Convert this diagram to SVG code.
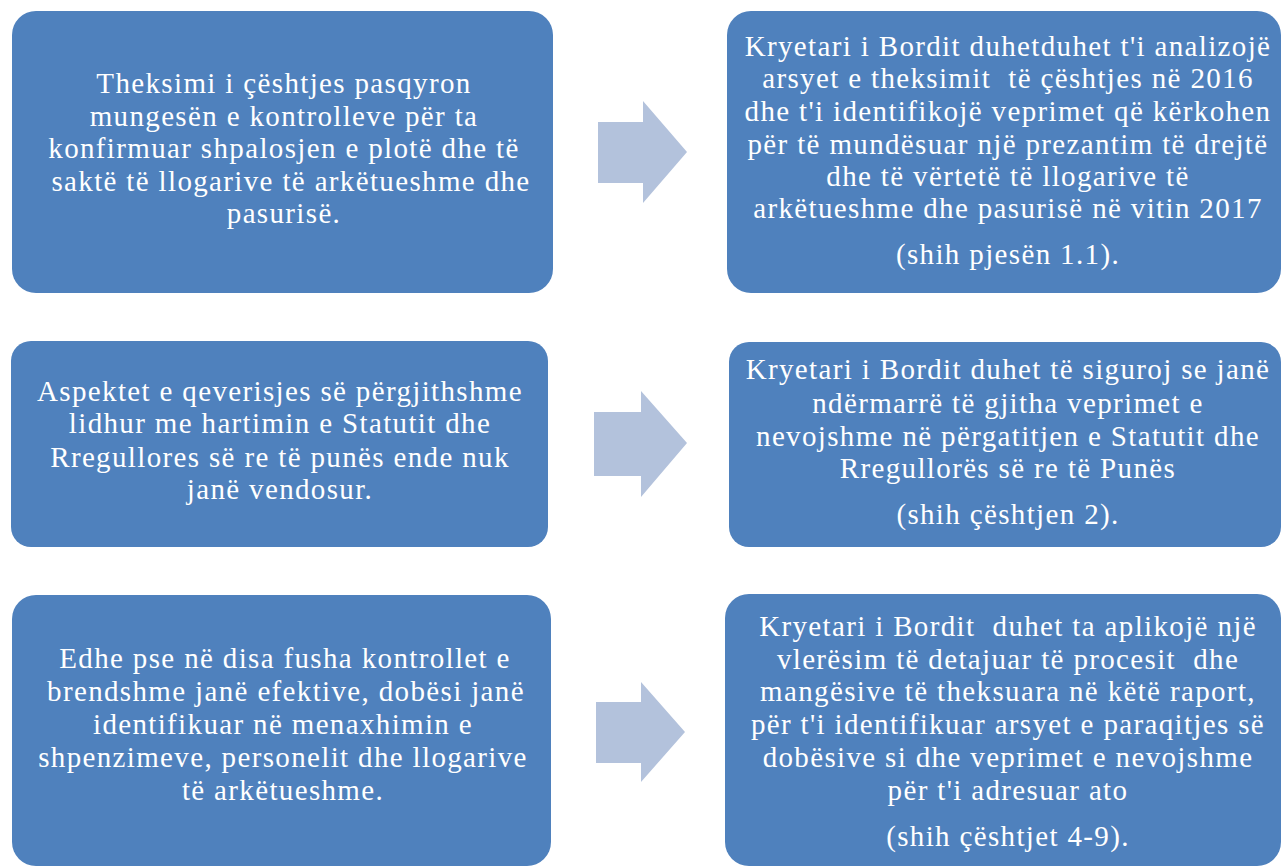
<svg xmlns="http://www.w3.org/2000/svg" width="1282" height="866" viewBox="0 0 1282 866">
<style>
.box{fill:#4F81BD;}
.arrow{fill:#B3C2DC;}
.t{font-family:"Liberation Serif","Times New Roman",serif;font-size:29px;fill:#FFFFFF;text-anchor:middle;letter-spacing:1.35px;white-space:pre;}
</style>
<rect width="1282" height="866" fill="#FFFFFF"/>
<g id="connectors">
<polygon class="arrow" points="598,122 643,122 643,101 687,152 643,203 643,183 598,183"/>
<polygon class="arrow" points="594,412 641,412 641,391 687,443 641,497 641,476 594,476"/>
<polygon class="arrow" points="596,702 641,702 641,682 685,732 641,782 641,763 596,763"/>
</g>
<g id="node1">
<rect class="box" x="12" y="11" width="541" height="282" rx="24"/>
<text class="t" x="284" y="93">Theksimi i çështjes pasqyron</text>
<text class="t" x="284" y="126">mungesën e kontrolleve për ta</text>
<text class="t" x="284" y="158">konfirmuar shpalosjen e plotë dhe të</text>
<text class="t" x="291" y="191">saktë të llogarive të arkëtueshme dhe</text>
<text class="t" x="284" y="223">pasurisë.</text>
</g>
<g id="node2">
<rect class="box" x="727" y="11" width="554" height="282" rx="24"/>
<text class="t" x="1008" y="56">Kryetari i Bordit duhetduhet t'i analizojë</text>
<text class="t" x="1008" y="88" xml:space="preserve">arsyet e theksimit  të çështjes në 2016</text>
<text class="t" x="1008" y="121">dhe t'i identifikojë veprimet që kërkohen</text>
<text class="t" x="1008" y="154">për të mundësuar një prezantim të drejtë</text>
<text class="t" x="1008" y="186">dhe të vërtetë të llogarive të</text>
<text class="t" x="1008" y="218">arkëtueshme dhe pasurisë në vitin 2017</text>
<text class="t" x="1008" y="264">(shih pjesën 1.1).</text>
</g>
<g id="node3">
<rect class="box" x="11" y="341" width="537" height="206" rx="20"/>
<text class="t" x="280" y="401">Aspektet e qeverisjes së përgjithshme</text>
<text class="t" x="280" y="433">lidhur me hartimin e Statutit dhe</text>
<text class="t" x="280" y="467">Rregullores së re të punës ende nuk</text>
<text class="t" x="280" y="499">janë vendosur.</text>
</g>
<g id="node4">
<rect class="box" x="729" y="342" width="552" height="205" rx="20"/>
<text class="t" x="1008" y="379">Kryetari i Bordit duhet të siguroj se janë</text>
<text class="t" x="1008" y="413">ndërmarrë të gjitha veprimet e</text>
<text class="t" x="1008" y="446">nevojshme në përgatitjen e Statutit dhe</text>
<text class="t" x="1008" y="478">Rregullorës së re të Punës</text>
<text class="t" x="1008" y="524">(shih çështjen 2).</text>
</g>
<g id="node5">
<rect class="box" x="12" y="595" width="539" height="271" rx="24"/>
<text class="t" x="285" y="668">Edhe pse në disa fusha kontrollet e</text>
<text class="t" x="286" y="701">brendshme janë efektive, dobësi janë</text>
<text class="t" x="283" y="734">identifikuar në menaxhimin e</text>
<text class="t" x="283" y="767">shpenzimeve, personelit dhe llogarive</text>
<text class="t" x="283" y="800">të arkëtueshme.</text>
</g>
<g id="node6">
<rect class="box" x="725" y="594" width="556" height="272" rx="24"/>
<text class="t" x="1008" y="636" xml:space="preserve">Kryetari i Bordit  duhet ta aplikojë një</text>
<text class="t" x="1008" y="669" xml:space="preserve">vlerësim të detajuar të procesit  dhe</text>
<text class="t" x="1008" y="701">mangësive të theksuara në këtë raport,</text>
<text class="t" x="1008" y="734">për t'i identifikuar arsyet e paraqitjes së</text>
<text class="t" x="1008" y="767">dobësive si dhe veprimet e nevojshme</text>
<text class="t" x="1008" y="800">për t'i adresuar ato</text>
<text class="t" x="1008" y="846">(shih çështjet 4-9).</text>
</g>
</svg>
